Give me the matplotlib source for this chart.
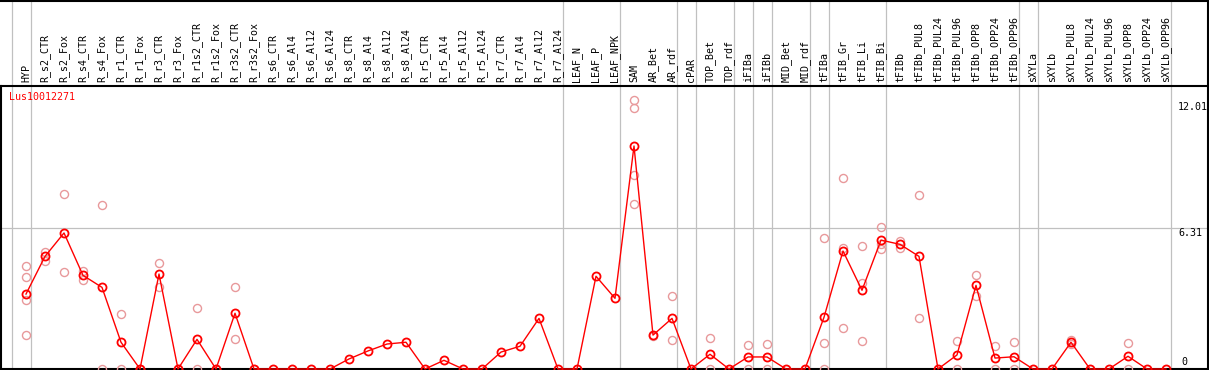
import numpy as np
import matplotlib
matplotlib.use("Agg")
import matplotlib.pyplot as plt

# noms des conditions (colonnes)
labels = ["HYP",
          "R_s2_CTR", "R_s2_Fox", "R_s4_CTR", "R_s4_Fox", "R_r1_CTR", "R_r1_Fox",
          "R_r3_CTR", "R_r3_Fox", "R_r1s2_CTR", "R_r1s2_Fox", "R_r3s2_CTR", "R_r3s2_Fox",
          "R_s6_CTR", "R_s6_Al4", "R_s6_Al12", "R_s6_Al24",
          "R_s8_CTR", "R_s8_Al4", "R_s8_Al12", "R_s8_Al24",
          "R_r5_CTR", "R_r5_Al4", "R_r5_Al12", "R_r5_Al24",
          "R_r7_CTR", "R_r7_Al4", "R_r7_Al12", "R_r7_Al24",
          "LEAF_N", "LEAF_P", "LEAF_NPK", "SAM", "AR_Bet", "AR_rdf", "cPAR",
          "TOP_Bet", "TOP_rdf", "iFIBa", "iFIBb", "MID_Bet", "MID_rdf",
          "tFIBa", "tFIB_Gr", "tFIB_Li", "tFIB_Bi", "tFIBb",
          "tFIBb_PUL8", "tFIBb_PUL24", "tFIBb_PUL96", "tFIBb_OPP8", "tFIBb_OPP24", "tFIBb_OPP96",
          "sXYLa", "sXYLb",
          "sXYLb_PUL8", "sXYLb_PUL24", "sXYLb_PUL96", "sXYLb_OPP8", "sXYLb_OPP24", "sXYLb_OPP96"]

# moyennes (courbe rouge)
means = [3.36, 5.05, 6.10, 4.20, 3.66, 1.20, 0, 4.26, 0, 1.33, 0, 2.50, 0,
         0, 0, 0, 0, 0.45, 0.81, 1.12, 1.20, 0, 0.39, 0, 0, 0.76, 1.02, 2.27, 0,
         0, 4.16, 3.17, 10.00, 1.52, 2.27, 0, 0.66, 0, 0.54, 0.54, 0, 0,
         2.32, 5.29, 3.53, 5.78, 5.59, 5.05, 0, 0.63, 3.75, 0.49, 0.55,
         0, 0, 1.20, 0, 0, 0.57, 0, 0]

# replicats (points roses)
rep_col = [0, 0, 0, 0, 1, 1, 2, 2, 3, 3, 4, 4, 5, 5, 6, 7, 7, 8, 9, 9, 10, 11, 11, 12,
           32, 32, 32, 32, 33, 34, 34, 36, 36, 38, 38, 39, 39,
           42, 42, 42, 43, 43, 43, 44, 44, 44, 45, 45, 45, 46, 46, 47, 47,
           49, 49, 50, 50, 51, 51, 52, 52, 55, 55, 58, 58]
rep_val = [4.60, 4.11, 3.08, 1.52, 5.26, 4.86, 7.83, 4.33, 4.39, 4.01, 7.34, 0, 2.45, 0, 0,
           4.74, 3.69, 0, 2.72, 0, 0, 3.66, 1.33, 0,
           12.08, 11.70, 8.70, 7.38, 1.50, 3.26, 1.29, 1.39, 0, 1.06, 0, 1.11, 0,
           5.86, 1.15, 0, 8.55, 5.41, 1.82, 5.50, 3.86, 1.24, 6.35, 5.59, 5.38, 5.75, 5.43,
           7.79, 2.27, 1.27, 0, 4.20, 3.29, 1.02, 0, 1.21, 0, 1.28, 1.12, 1.17, 0]

# separations de groupes (apres la colonne)
sep_after = [-1, 0, 28, 31, 34, 35, 37, 38, 39, 41, 42, 45, 52, 53, 60]

gene = "Lus10012271"
y_ticks = [12.01, 6.31, 0]

# conversion pixels -> donnees
def xv(px):
    return (px - 26) / 19.0

def yv(px):
    return (369 - px) / 22.3

mono = "DejaVu Sans Mono"
fig = plt.figure(figsize=(12.09, 3.70), dpi=100)
ax = fig.add_axes([0, 0, 1, 1])
ax.set_xlim(xv(0), xv(1209))
ax.set_ylim(yv(370), yv(0))
ax.axis("off")

grey = "#c0c0c0"
for s in sep_after:
    ax.axvline(s + 0.25, color=grey, lw=0.9, zorder=1)
ax.axhline(y_ticks[1], color=grey, lw=0.9, zorder=1)

# cadre
ax.axhline(yv(85.5), color="black", lw=1.5, zorder=2)
ax.axhline(0, color="black", lw=1.5, zorder=2)
ax.axhline(yv(0.5), color="black", lw=1.5, zorder=2)
ax.plot([xv(1208), xv(1208)], [yv(370), yv(0)], color="black", lw=1.5, zorder=2)
ax.plot([xv(1.5), xv(1.5)], [yv(370), yv(85.5)], color="black", lw=1.5, zorder=2)

x = np.arange(len(labels))
ax.plot(rep_col, rep_val, "o", ms=5.8, mfc="none", mec="#e8999b", mew=1.0, zorder=3)
ax.plot(x, means, "-", color="red", lw=1.0, zorder=4)
ax.plot(x, means, "o", ms=5.8, mfc="none", mec="red", mew=1.3, zorder=5)

for i, lab in enumerate(labels):
    ax.text(i, yv(82.5), lab, rotation=90, ha="center", va="bottom",
            family=mono, fontsize=7.2, color="black")

ax.text(xv(9.5), yv(97.5), gene, ha="left", va="center", family=mono,
        fontsize=7.2, color="red")

tick_px = [107.5, 232.5, 362]
tick_x = [1178, 1178, 1181]
for v, py, px in zip(y_ticks, tick_px, tick_x):
    ax.text(xv(px), yv(py), "%g" % v if v == 0 else "%.2f" % v, ha="left",
            va="center", family=mono, fontsize=7.2, color="black")

fig.savefig("out.png", dpi=100)
